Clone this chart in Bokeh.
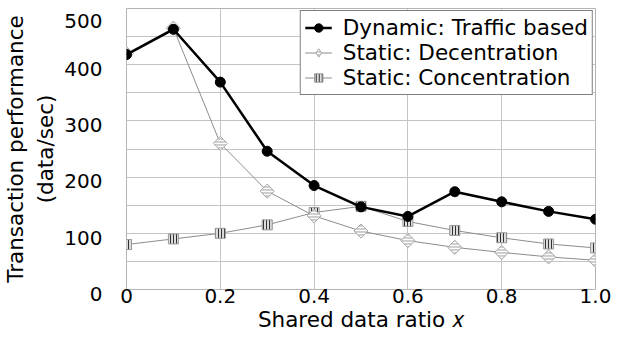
import math
from bokeh.plotting import figure
from bokeh.models import Legend, LegendItem, FixedTicker, Range1d, ColumnDataSource
from bokeh.embed import file_html
from bokeh.resources import INLINE

# ---- data ----
x = [0.0, 0.1, 0.2, 0.3, 0.4, 0.5, 0.6, 0.7, 0.8, 0.9, 1.0]
dynamic = [418, 463, 369, 246, 185, 147, 130, 174, 156, 139, 125]
decentration = [420, 465, 260, 175, 131, 104, 87, 75, 66, 58, 52]
concentration = [80, 90, 100, 115, 137, 148, 121, 105, 92, 81, 74]

x_ticks = [0, 0.2, 0.4, 0.6, 0.8, 1.0]
x_tick_labels = ["0", "0.2", "0.4", "0.6", "0.8", "1.0"]
y_ticks = [0, 100, 200, 300, 400, 500]
y_tick_labels = ["0", "100", "200", "300", "400", "500"]
y_minor = [50, 150, 250, 350, 450]

series_names = ["Dynamic: Traffic based", "Static: Decentration", "Static: Concentration"]
x_label = "Shared data ratio \U0001D465"
y_label = "Transaction performance\n(data/sec)"

FONT = "DejaVu Sans"
GRID = "#c4c4c4"

p = figure(width=612, height=339, output_backend="svg", toolbar_location=None,
           x_range=Range1d(0, 1), y_range=Range1d(0, 500),
           min_border_left=119, min_border_right=17, min_border_top=8, min_border_bottom=50)
p.background_fill_color = "white"
p.border_fill_color = "white"
p.outline_line_color = "#b4b4b4"
p.outline_line_width = 1

p.xaxis.ticker = FixedTicker(ticks=x_ticks)
p.xaxis.major_label_overrides = {t: l for t, l in zip(x_ticks, x_tick_labels)}
p.yaxis.ticker = FixedTicker(ticks=y_ticks, minor_ticks=y_minor)
# labels sit slightly below their grid lines in the reference
p.yaxis.major_label_overrides = {t: "\n" + l for t, l in zip(y_ticks, y_tick_labels)}
p.yaxis.major_label_text_line_height = 0.35

for ax in (p.xaxis[0], p.yaxis[0]):
    ax.axis_line_color = None
    ax.major_tick_line_color = None
    ax.minor_tick_line_color = None
    ax.major_tick_out = 0
    ax.major_tick_in = 0
    ax.minor_tick_out = 0
    ax.minor_tick_in = 0
    ax.major_label_text_font = FONT
    ax.major_label_text_font_size = "20px"
    ax.major_label_text_color = "black"
    ax.axis_label_text_font = FONT
    ax.axis_label_text_font_size = "21.5px"
    ax.axis_label_text_font_style = "normal"
    ax.axis_label_text_color = "black"

p.xaxis.axis_label = x_label
p.yaxis.axis_label = y_label
p.xaxis.major_label_standoff = -1
p.xaxis.axis_label_standoff = 1
p.yaxis.major_label_standoff = 24
p.yaxis.axis_label_standoff = 3

p.xgrid.grid_line_color = GRID
p.ygrid.grid_line_color = GRID
p.ygrid.minor_grid_line_color = GRID

CONC = dict(marker="square", fill_color="#dcdcdc", line_color="#9a9a9a", line_width=1,
            hatch_pattern="|", hatch_color="#333333", hatch_scale=3, hatch_weight=1)
DEC = dict(fill_color="#cccccc", line_color="#a8a8a8", line_width=1,
           hatch_pattern="-", hatch_color="white", hatch_scale=3, hatch_weight=1.2)

# concentration
c_line = p.line(x, concentration, line_color="#8c8c8c", line_width=1)
c_pts = p.scatter(x, concentration, size=10, **CONC)
# decentration
d_line = p.line(x, decentration, line_color="#8c8c8c", line_width=1)
p.scatter(x, decentration, marker="square", angle=math.pi / 4, size=10, **DEC)
# dynamic
y_line = p.line(x, dynamic, line_color="black", line_width=2.5)
y_pts = p.scatter(x, dynamic, marker="circle", size=10, fill_color="black", line_color="black")

# legend swatch for the diamond marker (a NaN point is never drawn in the plot)
d_leg = p.scatter(x="x", y="y", source=ColumnDataSource(dict(x=[float("nan")], y=[float("nan")])),
                  marker="diamond", **DEC)

legend = Legend(items=[
    LegendItem(label=series_names[0], renderers=[y_line, y_pts]),
    LegendItem(label=series_names[1], renderers=[d_line, d_leg]),
    LegendItem(label=series_names[2], renderers=[c_line, c_pts]),
], location="top_right")
legend.margin = 2
legend.padding = 4
legend.spacing = -3
legend.glyph_width = 27
legend.glyph_height = 21
legend.label_height = 20
legend.label_standoff = 11
legend.label_text_font = FONT
legend.label_text_font_size = "21.5px"
legend.label_text_color = "black"
legend.border_line_color = "black"
legend.border_line_width = 1
legend.background_fill_color = "white"
legend.background_fill_alpha = 1
p.add_layout(legend)

open("out.html", "w").write(file_html(p, INLINE))
